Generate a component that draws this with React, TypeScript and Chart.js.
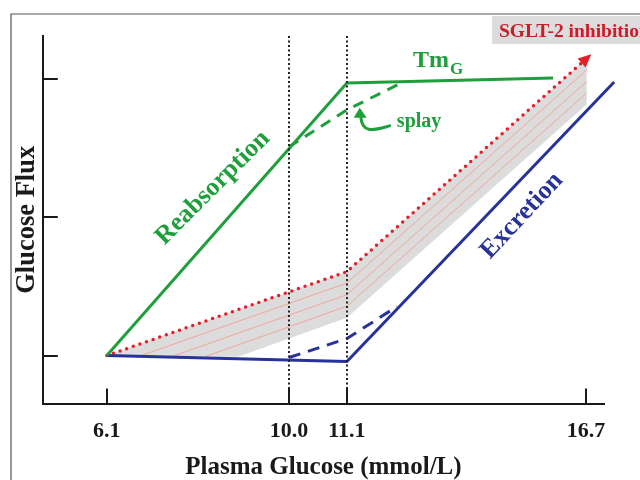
import React, { useEffect, useRef } from "react";
import { Chart, registerables } from "chart.js";

Chart.register(...registerables);

// ---- Axis ticks ----
const xTickValues = [6.1, 10.0, 11.1, 16.7];
const xTickLabels = ["6.1", "10.0", "11.1", "16.7"];
const yTickValues = [0, 1, 2];
const thresholdGlucose = [10.0, 11.1];

// ---- Series (glucose mmol/L, relative flux) ----
const reabsGlucose = [6.1, 11.1, 15.93];
const reabsFlux = [0, 1.971, 2.007];
const splayReabsGlucose = [10.0, 11.1, 12.33];
const splayReabsFlux = [1.509, 1.776, 1.964];
const excrGlucose = [6.1, 11.1, 17.36];
const excrFlux = [0, -0.043, 1.978];
const splayExcrGlucose = [10.0, 11.1, 12.27];
const splayExcrFlux = [-0.014, 0.123, 0.354];
const sgltGlucose = [6.1, 11.1, 16.72];
const sgltFlux = [0, 0.607, 2.149];
const bandLowerGlucose = [6.1, 8.91, 11.1, 16.72];
const bandLowerFlux = [0, -0.008, 0.274, 1.817];
const hatch1Glucose = [6.81, 11.1, 16.72];
const hatch1Flux = [-0.003, 0.524, 2.065];
const hatch2Glucose = [7.51, 11.1, 16.72];
const hatch2Flux = [-0.005, 0.44, 1.982];
const hatch3Glucose = [8.22, 11.1, 16.72];
const hatch3Flux = [-0.006, 0.357, 1.899];

// schematic (non-linear) glucose axis: knots and their fractional axis positions
const axisKnots = [6.1, 10.0, 11.1, 16.7];
const axisKnotPos = [0.1141, 0.4385, 0.5419, 0.9679];

function warp(g: number): number {
  const k = axisKnots, p = axisKnotPos;
  let i = 0;
  if (g <= k[0]) i = 0;
  else if (g >= k[k.length - 1]) i = k.length - 2;
  else {
    while (i < k.length - 2 && g > k[i + 1]) i++;
  }
  const t = (g - k[i]) / (k[i + 1] - k[i]);
  return p[i] + t * (p[i + 1] - p[i]);
}

const pts = (gs: number[], fs: number[]) => gs.map((g, i) => ({ x: warp(g), y: fs[i] }));

const GREEN = "#1f9e3c";
const BLUE = "#27339a";
const RED = "#e3202a";
const INK = "#1a1a1a";
const FONT = "Liberation Serif";
const f = (size: number) => `bold ${size}px "${FONT}"`;

const textLabels = [
  { text: "Reabsorption", g: 8.37, v: 1.213, angle: -45, color: GREEN, size: 26 },
  { text: "Excretion", g: 15.2, v: 1.011, angle: -47, color: BLUE, size: 26 },
];

const decorPlugin = {
  id: "decor",
  beforeDraw(chart: any) {
    const ctx = chart.ctx;
    ctx.save();
    ctx.strokeStyle = "#555";
    ctx.lineWidth = 1.2;
    ctx.beginPath();
    ctx.moveTo(11, 480);
    ctx.lineTo(11, 14);
    ctx.lineTo(640, 14);
    ctx.stroke();
    // SGLT-2 label box
    ctx.fillStyle = "#dcdcdc";
    ctx.fillRect(492, 16, 148, 28);
    ctx.fillStyle = "#c81e2a";
    ctx.font = f(19.5);
    ctx.textAlign = "left";
    ctx.textBaseline = "alphabetic";
    ctx.fillText("SGLT-2 inhibition", 499, 37);
    ctx.restore();
  },
  afterDatasetsDraw(chart: any) {
    const ctx = chart.ctx;
    const xs = chart.scales.x;
    const ys = chart.scales.y;
    const area = chart.chartArea;
    ctx.save();
    // threshold dotted verticals
    ctx.strokeStyle = "#222";
    ctx.lineWidth = 2;
    ctx.setLineDash([2, 2.5]);
    thresholdGlucose.forEach((g) => {
      const px = Math.round(xs.getPixelForValue(warp(g)));
      ctx.beginPath();
      ctx.moveTo(px, area.top);
      ctx.lineTo(px, area.bottom);
      ctx.stroke();
    });
    ctx.setLineDash([]);
    // inward ticks
    ctx.strokeStyle = INK;
    ctx.lineWidth = 2;
    xTickValues.forEach((g) => {
      const px = Math.round(xs.getPixelForValue(warp(g)));
      ctx.beginPath();
      ctx.moveTo(px, area.bottom);
      ctx.lineTo(px, area.bottom - 15);
      ctx.stroke();
    });
    yTickValues.forEach((v) => {
      const py = Math.round(ys.getPixelForValue(v));
      ctx.beginPath();
      ctx.moveTo(area.left, py);
      ctx.lineTo(area.left + 15, py);
      ctx.stroke();
    });
    // red arrow head
    const meta = chart.getDatasetMeta(1);
    const n = meta.data.length;
    const p1 = meta.data[n - 2], p2 = meta.data[n - 1];
    const dx = p2.x - p1.x, dy = p2.y - p1.y;
    const len = Math.hypot(dx, dy);
    const ux = dx / len, uy = dy / len;
    const tipX = p2.x + ux * 6, tipY = p2.y + uy * 6;
    const bx = tipX - ux * 13, by = tipY - uy * 13;
    ctx.fillStyle = RED;
    ctx.beginPath();
    ctx.moveTo(tipX, tipY);
    ctx.lineTo(bx - uy * 6, by + ux * 6);
    ctx.lineTo(bx + uy * 6, by - ux * 6);
    ctx.closePath();
    ctx.fill();
    // rotated labels
    textLabels.forEach((l) => {
      const x = xs.getPixelForValue(warp(l.g));
      const y = ys.getPixelForValue(l.v);
      ctx.save();
      ctx.translate(x, y);
      ctx.rotate((l.angle * Math.PI) / 180);
      ctx.font = f(l.size);
      ctx.fillStyle = l.color;
      ctx.textAlign = "center";
      ctx.textBaseline = "middle";
      ctx.fillText(l.text, 0, 0);
      ctx.restore();
    });
    // TmG
    const tx = xs.getPixelForValue(warp(12.65));
    const ty = ys.getPixelForValue(2.087);
    ctx.fillStyle = GREEN;
    ctx.textAlign = "left";
    ctx.textBaseline = "alphabetic";
    ctx.font = f(24);
    ctx.fillText("Tm", tx, ty);
    const tw = ctx.measureText("Tm").width;
    ctx.font = f(17);
    ctx.fillText("G", tx + tw + 1, ty + 7);
    // splay
    const sx = xs.getPixelForValue(warp(12.27));
    const sy = ys.getPixelForValue(1.69);
    ctx.font = f(20);
    ctx.textBaseline = "middle";
    ctx.fillText("splay", sx, sy);
    // splay hook arrow
    const ax = xs.getPixelForValue(warp(11.4));
    const ay = ys.getPixelForValue(1.769);
    ctx.strokeStyle = GREEN;
    ctx.lineWidth = 3;
    ctx.lineCap = "round";
    ctx.beginPath();
    ctx.moveTo(ax + 30, ay + 15);
    ctx.bezierCurveTo(ax + 15, ay + 19, ax + 2, ay + 24, ax + 1, ay + 5);
    ctx.stroke();
    ctx.fillStyle = GREEN;
    ctx.beginPath();
    ctx.moveTo(ax - 6, ay + 7);
    ctx.lineTo(ax + 7, ay + 7);
    ctx.lineTo(ax, ay - 3);
    ctx.closePath();
    ctx.fill();
    ctx.restore();
  },
};

export default function App() {
  const ref = useRef<HTMLCanvasElement>(null);
  useEffect(() => {
    const canvas = ref.current!;
    const line = (data: any, extra: any) => ({
      data,
      pointRadius: 0,
      tension: 0,
      fill: false,
      clip: false,
      borderJoinStyle: "round",
      ...extra,
    });
    const chart = new Chart(canvas, {
      type: "line",
      data: {
        datasets: [
          line(pts(bandLowerGlucose, bandLowerFlux), {
            borderWidth: 0,
            borderColor: "rgba(0,0,0,0)",
            backgroundColor: "#dcdcdc",
            fill: 1,
            order: 10,
          }),
          line(pts(sgltGlucose, sgltFlux), {
            borderColor: RED,
            borderWidth: 3.5,
            borderDash: [0, 7],
            borderCapStyle: "round",
            order: 5,
          }),
          line(pts(hatch1Glucose, hatch1Flux), { borderColor: "#f2a69c", borderWidth: 1, order: 8 }),
          line(pts(hatch2Glucose, hatch2Flux), { borderColor: "#f2a69c", borderWidth: 1, order: 8 }),
          line(pts(hatch3Glucose, hatch3Flux), { borderColor: "#f2a69c", borderWidth: 1, order: 8 }),
          line(pts(reabsGlucose, reabsFlux), { borderColor: GREEN, borderWidth: 3, order: 2 }),
          line(pts(splayReabsGlucose, splayReabsFlux), {
            borderColor: GREEN,
            borderWidth: 3,
            borderDash: [11, 8],
            order: 3,
          }),
          line(pts(excrGlucose, excrFlux), { borderColor: BLUE, borderWidth: 3, order: 2 }),
          line(pts(splayExcrGlucose, splayExcrFlux), {
            borderColor: BLUE,
            borderWidth: 3,
            borderDash: [12, 8],
            order: 3,
          }),
        ],
      },
      options: {
        responsive: false,
        animation: false,
        layout: { padding: { left: 0, top: 36, right: 36, bottom: 0 } },
        plugins: { legend: { display: false }, tooltip: { enabled: false } },
        scales: {
          x: {
            type: "linear",
            min: 0,
            max: 1,
            grid: { display: false, drawTicks: false },
            border: { display: true, color: INK, width: 2 },
            afterBuildTicks: (s: any) => {
              s.ticks = xTickValues.map((v) => ({ value: warp(v) }));
            },
            ticks: {
              autoSkip: false,
              maxRotation: 0,
              padding: 15,
              color: INK,
              font: { family: FONT, size: 22, weight: "bold", lineHeight: 1.2 },
              callback: (_v: any, i: number) => xTickLabels[i],
            },
            title: {
              display: true,
              text: "Plasma Glucose (mmol/L)",
              color: INK,
              font: { family: FONT, size: 25, weight: "bold", lineHeight: 1 },
              padding: { top: -5, bottom: 0 },
            },
          },
          y: {
            type: "linear",
            min: -0.347,
            max: 2.31,
            grid: { display: false, drawTicks: false },
            border: { display: true, color: INK, width: 2 },
            afterBuildTicks: (s: any) => {
              s.ticks = yTickValues.map((v) => ({ value: v }));
            },
            ticks: { display: false },
            title: {
              display: true,
              text: "Glucose Flux",
              color: INK,
              font: { family: FONT, size: 26.5, weight: "bold", lineHeight: 1.2 },
              padding: { top: 11, bottom: 0 },
            },
          },
        },
      } as any,
      plugins: [decorPlugin],
    });
    return () => chart.destroy();
  }, []);
  return (
    <div style={{ position: "fixed", left: 0, top: 0, width: 640, height: 480, background: "#fff" }}>
      <canvas ref={ref} width={640} height={480} style={{ display: "block", width: 640, height: 480 }} />
    </div>
  );
}
